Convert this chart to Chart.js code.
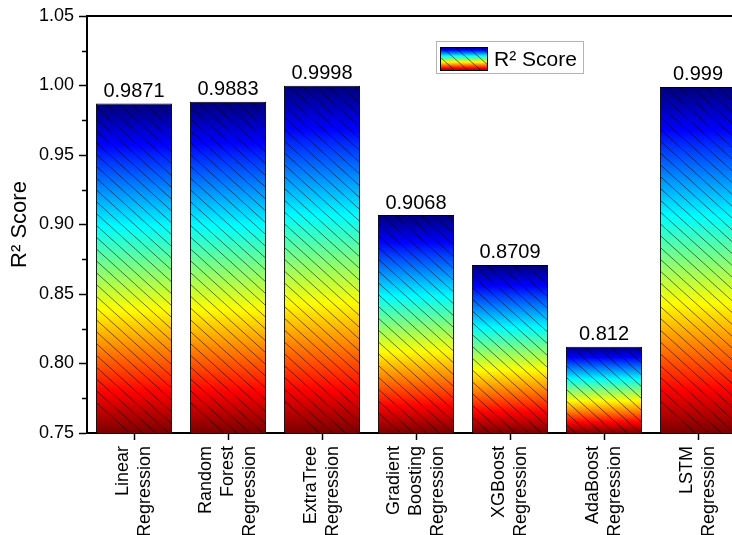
<!DOCTYPE html>
<html>
<head>
<meta charset="utf-8">
<script src="https://cdn.jsdelivr.net/npm/chart.js@4"></script>
<style>
  html, body { margin: 0; padding: 0; background: #fff; overflow: hidden; }
  #wrap { width: 760px; height: 535px; }
</style>
</head>
<body>
<div id="wrap"><canvas id="myChart"></canvas></div>
<script>
const models = [
    ['Linear', 'Regression'],
    ['Random', 'Forest', 'Regression'],
    ['ExtraTree', 'Regression'],
    ['Gradient', 'Boosting', 'Regression'],
    ['XGBoost', 'Regression'],
    ['AdaBoost', 'Regression'],
    ['LSTM', 'Regression']
];
const r2Scores = [0.9871, 0.9883, 0.9998, 0.9068, 0.8709, 0.812, 0.999];
const valueLabels = ['0.9871', '0.9883', '0.9998', '0.9068', '0.8709', '0.812', '0.999'];
const yMin = 0.75;
const yMax = 1.05;
const yStep = 0.05;
const minorTicks = [0.775, 0.825, 0.875, 0.925, 0.975, 1.025];
const axisTitle = 'R² Score';
const legendLabel = 'R² Score';

const FONT = 'Arial, "Liberation Sans", sans-serif';

// jet colours, top of bar -> bottom of bar
function jet(ctx, top, bottom) {
    const g = ctx.createLinearGradient(0, top, 0, bottom);
    g.addColorStop(0, '#00007a');
    g.addColorStop(0.125, '#0000ff');
    g.addColorStop(0.375, '#00ffff');
    g.addColorStop(0.5, '#80ff80');
    g.addColorStop(0.625, '#ffff00');
    g.addColorStop(0.875, '#ff0000');
    g.addColorStop(1, '#7a0000');
    return g;
}

function hatch(ctx, left, top, w, h) {
    ctx.save();
    ctx.beginPath();
    ctx.rect(left, top, w, h);
    ctx.clip();
    ctx.strokeStyle = 'rgba(0,0,0,0.55)';
    ctx.lineWidth = 1;
    ctx.beginPath();
    for (let k = -h; k < w; k += 13) {
        ctx.moveTo(left + k, top);
        ctx.lineTo(left + k + h * 1.1, top + h);
    }
    ctx.stroke();
    ctx.restore();
}

const barDecor = {
    id: 'barDecor',
    afterDatasetsDraw(chart) {
        const ctx = chart.ctx;
        const area = chart.chartArea;
        const meta = chart.getDatasetMeta(0);
        meta.data.forEach((bar, i) => {
            const p = bar.getProps(['x', 'y', 'base', 'width'], true);
            const left = p.x - p.width / 2;
            const bottom = Math.min(p.base, area.bottom);
            hatch(ctx, left + 1, p.y + 1, p.width - 2, bottom - p.y - 1);
            ctx.save();
            ctx.fillStyle = '#000';
            ctx.font = '20px ' + FONT;
            ctx.textAlign = 'center';
            ctx.textBaseline = 'bottom';
            ctx.fillText(valueLabels[i], p.x, p.y - 2);
            ctx.restore();
        });
    },
    afterDraw(chart) {
        const ctx = chart.ctx;
        const area = chart.chartArea;
        const x = chart.scales.x;
        const y = chart.scales.y;

        // top frame line
        ctx.save();
        ctx.strokeStyle = '#000';
        ctx.lineWidth = 2;
        ctx.beginPath();
        ctx.moveTo(area.left - 1, area.top);
        ctx.lineTo(area.right, area.top);
        ctx.stroke();

        // minor ticks
        ctx.lineWidth = 1.5;
        ctx.beginPath();
        minorTicks.forEach(v => {
            const py = Math.round(y.getPixelForValue(v)) + 0.5;
            ctx.moveTo(area.left - 5, py);
            ctx.lineTo(area.left, py);
        });
        ctx.stroke();

        // x labels, rotated
        ctx.fillStyle = '#000';
        ctx.font = '18px ' + FONT;
        ctx.textAlign = 'right';
        ctx.textBaseline = 'middle';
        models.forEach((lines, i) => {
            const px = x.getPixelForTick(i);
            lines.forEach((line, j) => {
                const lx = px + (j - (lines.length - 1) / 2) * 22;
                ctx.save();
                ctx.translate(lx, area.bottom + 13);
                ctx.rotate(-Math.PI / 2);
                ctx.fillText(line, 0, 0);
                ctx.restore();
            });
        });

        // legend
        const bx = 436, by = 41, bw = 147, bh = 32;
        ctx.fillStyle = '#fff';
        ctx.fillRect(bx, by, bw, bh);
        ctx.strokeStyle = '#b4b4b4';
        ctx.lineWidth = 1;
        ctx.strokeRect(bx + 0.5, by + 0.5, bw, bh);
        const sx = 440, sy = 47, sw = 48, sh = 24;
        ctx.fillStyle = jet(ctx, sy, sy + sh);
        ctx.fillRect(sx, sy, sw, sh);
        hatch(ctx, sx, sy, sw, sh);
        ctx.strokeStyle = '#000';
        ctx.strokeRect(sx + 0.5, sy + 0.5, sw - 1, sh - 1);
        ctx.fillStyle = '#000';
        ctx.font = '21px ' + FONT;
        ctx.textAlign = 'left';
        ctx.textBaseline = 'middle';
        ctx.fillText(legendLabel, 494, sy + sh / 2 + 1);
        ctx.restore();
    }
};

function createChart() {
    const ctx = document.getElementById('myChart');
    new Chart(ctx, {
        type: 'bar',
        data: {
            labels: models,
            datasets: [{
                label: legendLabel,
                data: r2Scores,
                backgroundColor: (c) => {
                    const chart = c.chart;
                    if (!chart.chartArea || c.type !== 'data') return '#888';
                    const top = chart.scales.y.getPixelForValue(c.raw);
                    const bottom = chart.scales.y.getPixelForValue(yMin);
                    return jet(chart.ctx, top, bottom);
                },
                borderColor: '#000',
                borderWidth: 1,
                borderSkipped: false,
                categoryPercentage: 1,
                barPercentage: 0.81
            }]
        },
        options: {
            responsive: true,
            maintainAspectRatio: false,
            animation: false,
            layout: { padding: { top: 16, right: 15, left: 0, bottom: 0 } },
            plugins: {
                legend: { display: false },
                tooltip: { enabled: false }
            },
            scales: {
                x: {
                    grid: {
                        offset: false,
                        drawOnChartArea: false,
                        drawTicks: true,
                        tickLength: 7,
                        tickColor: '#000',
                        tickWidth: 1.5
                    },
                    border: { color: '#000', width: 2 },
                    ticks: { autoSkip: false, maxRotation: 0, callback: () => '' },
                    afterFit: (s) => { s.height = 102; }
                },
                y: {
                    min: yMin,
                    max: yMax,
                    grid: {
                        drawOnChartArea: false,
                        tickLength: 8,
                        tickColor: '#000',
                        tickWidth: 1.5
                    },
                    border: { color: '#000', width: 2 },
                    ticks: {
                        stepSize: yStep,
                        padding: 5,
                        color: '#000',
                        font: { size: 18, family: FONT },
                        callback: (v) => Number(v).toFixed(2)
                    },
                    title: {
                        display: true,
                        text: axisTitle,
                        color: '#000',
                        font: { size: 22, family: FONT },
                        padding: { top: 7, bottom: 0 }
                    },
                    afterFit: (s) => { s.width = 87; }
                }
            }
        },
        plugins: [barDecor]
    });
}

createChart();
</script>
</body>
</html>
